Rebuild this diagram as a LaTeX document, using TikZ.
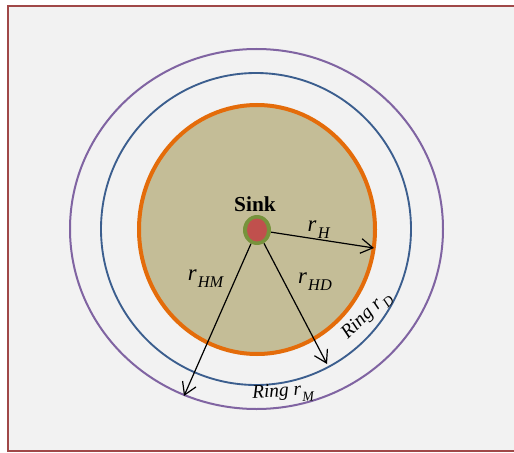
\documentclass[tikz,border=0pt]{standalone}
\usepackage{fontspec}
\setmainfont{Liberation Serif}
\usetikzlibrary{shapes.geometric,arrows.meta}
\definecolor{bgc}{HTML}{F2F2F2}
\definecolor{framec}{HTML}{A04848}
\definecolor{orangec}{HTML}{E46C0A}
\definecolor{tanc}{HTML}{C4BD97}
\definecolor{bluec}{HTML}{3B5E8E}
\definecolor{purplec}{HTML}{8064A2}
\definecolor{greenc}{HTML}{77933C}
\definecolor{redc}{HTML}{C0504D}
\newcommand{\rsb}[1]{\textit{r}\raisebox{-0.3em}{\kern0.05em\scalebox{0.72}{\textit{#1}}}}
\tikzset{
  ring/.style={ellipse, draw, inner sep=0pt},
  radarrow/.style={-{Straight Barb[length=9pt,width=11pt]}, line width=0.9pt, black},
  rlabel/.style={font=\fontsize{17}{19}\selectfont, inner sep=0pt},
  ringlabel/.style={font=\fontsize{14.5}{16}\selectfont\itshape, inner sep=0pt}
}
\begin{document}
\begin{tikzpicture}[x=0.75pt,y=-0.75pt]
\useasboundingbox (0,0) rectangle (514,453);
\fill[white] (0,0) rectangle (514,453);
\draw[framec, line width=1.5pt, fill=bgc] (8,6.5) rectangle (525,451);
\node[ring, draw=purplec, line width=1.5pt, minimum width=373*0.75pt, minimum height=360*0.75pt] (ringM) at (256.5,229) {};
\node[ring, draw=bluec, line width=1.4pt, minimum width=310*0.75pt, minimum height=312*0.75pt] (ringD) at (256,229) {};
\node[ring, draw=orangec, fill=tanc, line width=3pt, minimum width=236*0.75pt, minimum height=249*0.75pt] (ringH) at (257,229.5) {};
\node[ellipse, fill=greenc, inner sep=0pt, minimum width=28*0.75pt, minimum height=30*0.75pt] (sink) at (257,230) {};
\node[ellipse, fill=redc, inner sep=0pt, minimum width=20*0.75pt, minimum height=23*0.75pt] (sinkin) at (257,230) {};
\node[font=\fontsize{16}{18}\selectfont\bfseries, inner sep=0pt] (sinklbl) at (255,204) {Sink};
\coordinate (eH) at (374,248);
\coordinate (eHM) at (184,396);
\coordinate (eHD) at (327,364);
\draw[radarrow] (sink) -- (eH);
\draw[radarrow] (sink) -- (eHM);
\draw[radarrow] (sink) -- (eHD);
\node[rlabel] (lH) at (319,230) {\rsb{H}};
\node[rlabel] (lHM) at (206,279) {\rsb{HM}};
\node[rlabel] (lHD) at (315,282) {\rsb{HD}};
\node[ringlabel, rotate=44] (lD) at (367,316) {Ring \rsb{D}};
\node[ringlabel, rotate=3] (lM) at (283,393) {Ring \rsb{M}};
\end{tikzpicture}
\end{document}
